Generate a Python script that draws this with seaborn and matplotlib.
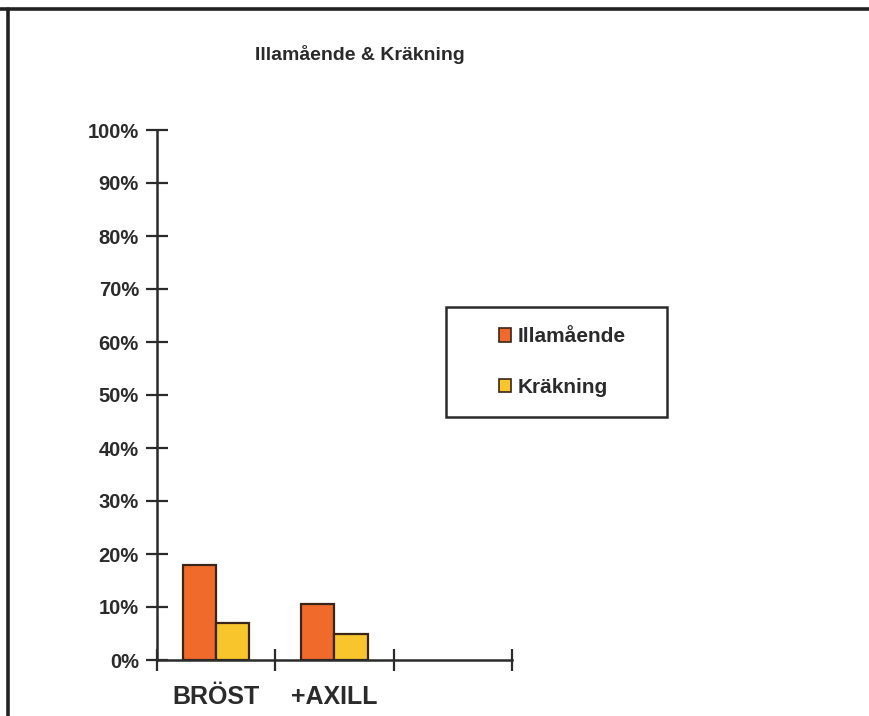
import matplotlib
matplotlib.use("Agg")
import matplotlib.pyplot as plt
from matplotlib.lines import Line2D
from matplotlib.patches import Rectangle
from matplotlib.ticker import FixedLocator, PercentFormatter
import seaborn as sns
import pandas as pd

# Data
categories = ["BRÖST", "+AXILL", " "]
series_names = ["Illamående", "Kräkning"]
illamaende = [0.18, 0.106]
krakning = [0.07, 0.049]
title = "Illamående & Kräkning"

colors = {"Illamående": "#F06A2C", "Kräkning": "#F8C52C"}
ink = "#2b2b2b"
edge = "#3a2618"

df = pd.DataFrame({
    "kategori": categories[:2] * 2,
    "serie": [series_names[0]] * 2 + [series_names[1]] * 2,
    "andel": illamaende + krakning,
})

sns.set_theme(style="white")
plt.rcParams["font.family"] = ["Liberation Sans", "DejaVu Sans"]

fig = plt.figure(figsize=(8.7, 7.16), dpi=100)
fig.patch.set_facecolor("white")
ax = fig.add_axes([157 / 870, 1 - 660 / 716, (512 - 157) / 870, (660 - 130) / 716])

sns.barplot(data=df, x="kategori", y="andel", hue="serie", order=categories,
            hue_order=series_names, palette=colors, saturation=1, width=0.56,
            edgecolor=edge, linewidth=1.6, ax=ax, legend=True)

ax.set_xlim(-0.5, 2.5)
ax.set_ylim(0, 1)
ax.set_xlabel("")
ax.set_ylabel("")

# y axis: percent ticks crossing the axis line
ax.yaxis.set_major_locator(FixedLocator([i / 10 for i in range(11)]))
ax.yaxis.set_major_formatter(PercentFormatter(1.0, decimals=0))
ax.tick_params(axis="y", direction="inout", length=16, width=1.6, color=ink,
               labelsize=14.5, labelcolor=ink, pad=5, left=True)

# x axis: ticks at category boundaries, labels at category centres
ax.xaxis.set_major_locator(FixedLocator([-0.5, 0.5, 1.5, 2.5]))
ax.set_xticklabels(["", "", "", ""])
ax.xaxis.set_minor_locator(FixedLocator([0, 1]))
ax.set_xticklabels(categories[:2], minor=True)
ax.tick_params(axis="x", which="major", direction="inout", length=16, width=1.6,
               color=ink, bottom=True)
ax.tick_params(axis="x", which="minor", length=0, labelsize=18, labelcolor=ink,
               pad=18)

for side in ["top", "right"]:
    ax.spines[side].set_visible(False)
for side in ["left", "bottom"]:
    ax.spines[side].set_color(ink)
    ax.spines[side].set_linewidth(1.8)

for lbl in ax.get_yticklabels() + ax.get_xticklabels(minor=True):
    lbl.set_fontweight("bold")

# Legend entries inside a separate box
ax.legend(loc="center left", bbox_to_anchor=(499 / 870, 1 - 362 / 716),
          bbox_transform=fig.transFigure, frameon=False,
          prop={"size": 15, "weight": "bold"}, handlelength=0.6,
          handleheight=0.6, handletextpad=0.3, labelspacing=1.5,
          borderpad=0, borderaxespad=0)
leg = ax.get_legend()
for t in leg.get_texts():
    t.set_color(ink)
for h in leg.legend_handles:
    h.set_edgecolor(edge)
    h.set_linewidth(1.2)

fig.add_artist(Rectangle((446 / 870, 1 - 417 / 716), (667 - 446) / 870,
                         (417 - 307) / 716, transform=fig.transFigure,
                         fill=False, edgecolor=ink, linewidth=1.8))

fig.text(360 / 870, 1 - 55 / 716, title, ha="center", va="center",
         fontsize=14, color=ink, fontweight="bold")

# Outer frame: top and left edges
fig.add_artist(Line2D([0, 1], [1 - 9 / 716] * 2, transform=fig.transFigure,
                      color="#222222", linewidth=2.6))
fig.add_artist(Line2D([8 / 870] * 2, [0, 1 - 9 / 716], transform=fig.transFigure,
                      color="#222222", linewidth=2.6))

fig.savefig("out.png", dpi=100, facecolor="white")
